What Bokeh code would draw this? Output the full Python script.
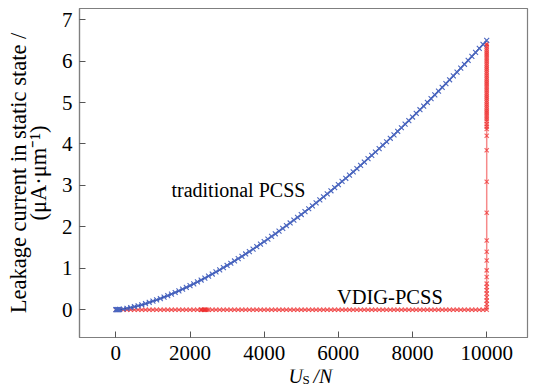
from bokeh.plotting import figure
from bokeh.layouts import column
from bokeh.models import Label, Range1d, FixedTicker
from bokeh.embed import file_html
from bokeh.resources import INLINE

# ---- data ----
trad_v = [0, 20, 40, 60, 80] + list(range(100, 10001, 100))
trad_i = [0.000, 0.001, 0.002, 0.003, 0.005,
          0.007, 0.018, 0.034, 0.052, 0.073, 0.096, 0.120, 0.147, 0.176, 0.206,
          0.237, 0.270, 0.305, 0.340, 0.378, 0.416, 0.456, 0.496, 0.538, 0.581,
          0.626, 0.671, 0.717, 0.764, 0.813, 0.862, 0.912, 0.963, 1.015, 1.068,
          1.122, 1.177, 1.232, 1.289, 1.346, 1.404, 1.463, 1.523, 1.583, 1.644,
          1.706, 1.769, 1.833, 1.897, 1.962, 2.028, 2.094, 2.162, 2.230, 2.298,
          2.367, 2.437, 2.508, 2.579, 2.651, 2.724, 2.797, 2.871, 2.946, 3.021,
          3.097, 3.173, 3.250, 3.328, 3.406, 3.485, 3.565, 3.645, 3.726, 3.807,
          3.889, 3.971, 4.054, 4.138, 4.222, 4.307, 4.392, 4.478, 4.564, 4.651,
          4.739, 4.827, 4.915, 5.004, 5.094, 5.184, 5.275, 5.366, 5.458, 5.550,
          5.643, 5.736, 5.830, 5.924, 6.019, 6.114, 6.210, 6.306, 6.403, 6.500]

vdig_flat_v = sorted(list(range(0, 10000, 100)) + [2300, 2340, 2380, 2420, 2460])
vdig_flat_i = [0.0] * len(vdig_flat_v)

vdig_rise_i = [0.00, 0.06, 0.14, 0.22, 0.30, 0.39, 0.47, 0.55, 0.63, 0.79, 0.95,
               1.19, 1.40, 1.67, 2.34, 3.09, 3.85, 4.20, 4.36, 4.42, 4.48,
               4.55, 4.60, 4.65, 4.70, 4.75, 4.80, 4.85, 4.90, 4.95, 5.00,
               5.05, 5.10, 5.15, 5.20, 5.25, 5.30, 5.35, 5.40, 5.45, 5.50,
               5.55, 5.60, 5.65, 5.70, 5.75, 5.80, 5.85, 5.90, 5.95, 6.00,
               6.05, 6.10, 6.15, 6.20, 6.25, 6.30, 6.35, 6.40, 6.42]
vdig_rise_v = [10000] * len(vdig_rise_i)

vdig_v = vdig_flat_v + vdig_rise_v
vdig_i = vdig_flat_i + vdig_rise_i

x_ticks = [0, 2000, 4000, 6000, 8000, 10000]
y_ticks = [0, 1, 2, 3, 4, 5, 6, 7]

FONT = "Liberation Serif"
BLUE = "#2f4aa6"
RED = "#ee2a2a"
BASE_FIX = 7  # svg backend draws alphabetic-baseline text ~7px low

p = figure(width=540, height=369, output_backend="svg", toolbar_location=None,
           title=None,
           x_range=Range1d(-980, 11100), y_range=Range1d(-0.67, 7.27),
           min_border_left=79, min_border_right=13, min_border_top=8,
           min_border_bottom=32)

p.grid.visible = False
p.outline_line_color = "#7f7f7f"
p.outline_line_width = 1.2
p.background_fill_color = "white"
p.border_fill_color = "white"

for ax in (p.xaxis[0], p.yaxis[0]):
    ax.axis_line_color = "#7f7f7f"
    ax.axis_line_width = 1.2
    ax.major_tick_line_color = "#555555"
    ax.major_tick_in = 6
    ax.major_tick_out = 0
    ax.minor_tick_line_color = None
    ax.major_label_text_font = FONT
    ax.major_label_text_font_size = "21px"
    ax.major_label_text_color = "black"

p.xaxis.ticker = FixedTicker(ticks=x_ticks)
p.yaxis.ticker = FixedTicker(ticks=y_ticks)
p.xaxis.major_label_standoff = 8
p.yaxis.major_label_standoff = 7

p.yaxis.axis_label = "Leakage current in static state /\n(μA·μm⁻¹)"
p.yaxis.axis_label_text_font = FONT
p.yaxis.axis_label_text_font_size = "22.5px"
p.yaxis.axis_label_text_font_style = "normal"
p.yaxis.axis_label_text_color = "black"
p.yaxis.axis_label_standoff = 8
p.yaxis.axis_label_text_line_height = 0.8

# VDIG-PCSS series
p.line(vdig_v, vdig_i, line_color=RED, line_width=1.5, line_alpha=0.55)
p.scatter(vdig_v, vdig_i, marker="x", size=6, line_color=RED, line_alpha=0.7,
          line_width=1.2)

# traditional PCSS series
p.line(trad_v, trad_i, line_color=BLUE, line_width=1.6)
p.scatter(trad_v, trad_i, marker="x", size=7, line_color="#4a66c0",
          line_width=1.1)

# annotations
p.add_layout(Label(x=1500, y=2.73, y_offset=BASE_FIX, text="traditional PCSS",
                   text_font=FONT, text_font_size="20px",
                   text_baseline="alphabetic", text_color="black"))
p.add_layout(Label(x=5960, y=0.15, y_offset=BASE_FIX, text="VDIG-PCSS",
                   text_font=FONT, text_font_size="20.5px",
                   text_baseline="alphabetic", text_color="black"))

# strip below holding the x-axis label: U_S /N (its frame aligns with p's frame)
q = figure(width=540, height=18, output_backend="svg", toolbar_location=None,
           title=None,
           x_range=Range1d(79, 527), y_range=Range1d(0, 1),
           x_axis_location=None, y_axis_location=None,
           min_border_left=0, min_border_right=0, min_border_top=0,
           min_border_bottom=0)
q.grid.visible = False
q.outline_line_color = None
q.background_fill_color = "white"
q.border_fill_color = "white"

q.add_layout(Label(x=288, y=1, y_offset=-13 + BASE_FIX, text="U",
                   text_font=FONT, text_font_size="20px",
                   text_font_style="italic", text_baseline="alphabetic",
                   text_color="black"))
q.add_layout(Label(x=302, y=1, y_offset=-17 + BASE_FIX, text="S",
                   text_font=FONT, text_font_size="13px",
                   text_baseline="alphabetic", text_color="black"))
q.add_layout(Label(x=313, y=1, y_offset=-13 + BASE_FIX, text="/N",
                   text_font=FONT, text_font_size="20px",
                   text_font_style="italic", text_baseline="alphabetic",
                   text_color="black"))

layout = column(p, q, spacing=0)
open("out.html", "w").write(file_html(layout, INLINE))
